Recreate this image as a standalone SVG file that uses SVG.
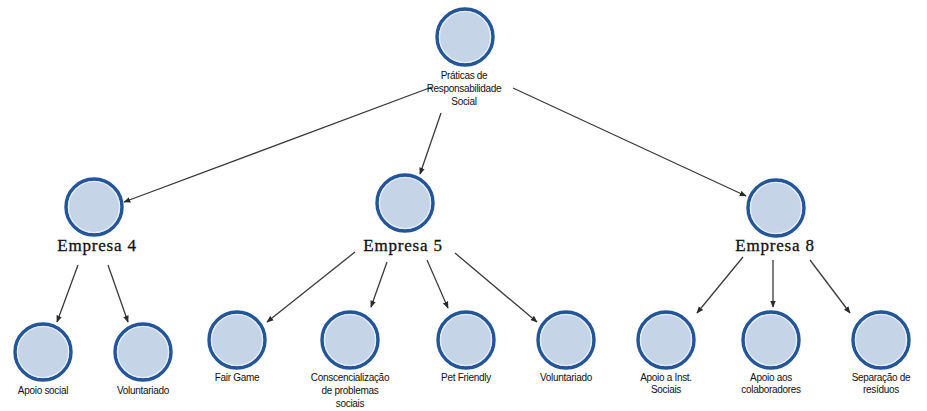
<svg xmlns="http://www.w3.org/2000/svg" width="927" height="411" viewBox="0 0 927 411">
<style>
.c{fill:#c6d4e8;stroke:#23559a;stroke-width:3.4}
.ci{fill:none;stroke:#e6eef8;stroke-width:1.2}
.s{font-family:"Liberation Sans",Arial,sans-serif;font-size:10px;fill:#111;text-anchor:middle;letter-spacing:-0.3px}
.e{font-family:"Liberation Serif","Times New Roman",serif;font-size:17px;fill:#111;text-anchor:middle;letter-spacing:0.8px;stroke:#111;stroke-width:0.3}
.a{stroke:#3a3a3a;stroke-width:1.3;fill:none;marker-end:url(#ah)}
</style>
<defs>
<marker id="ah" viewBox="0 0 10 10" refX="9" refY="5" markerWidth="7" markerHeight="7" orient="auto" markerUnits="userSpaceOnUse">
<path d="M0,1 L10,5 L0,9 z" fill="#2a2a2a"/>
</marker>
</defs>
<rect width="927" height="411" fill="#fff"/>
<g id="connectors">
<line class="a" x1="432" y1="87" x2="124" y2="202"/>
<line class="a" x1="441" y1="113" x2="420" y2="174"/>
<line class="a" x1="513" y1="88" x2="746" y2="196"/>
<line class="a" x1="78" y1="265" x2="57" y2="322"/>
<line class="a" x1="108" y1="265" x2="128" y2="322"/>
<line class="a" x1="355" y1="252" x2="267" y2="322"/>
<line class="a" x1="387" y1="262" x2="371" y2="307"/>
<line class="a" x1="427" y1="260" x2="448" y2="308"/>
<line class="a" x1="455" y1="253" x2="537" y2="322"/>
<line class="a" x1="743" y1="257" x2="697" y2="313"/>
<line class="a" x1="773" y1="260" x2="773" y2="307"/>
<line class="a" x1="810" y1="260" x2="850" y2="313"/>
</g>
<g id="n-root">
<circle class="c" cx="465" cy="37" r="28"/><circle class="ci" cx="465" cy="37" r="25.5"/>
<text class="s" x="464" y="79">Práticas de</text>
<text class="s" x="464" y="92">Responsabilidade</text>
<text class="s" x="464" y="105">Social</text>
</g>
<g id="n-e4">
<circle class="c" cx="94" cy="207" r="28"/><circle class="ci" cx="94" cy="207" r="25.5"/>
<text class="e" x="97" y="251">Empresa 4</text>
</g>
<g id="n-e5">
<circle class="c" cx="405" cy="203" r="28"/><circle class="ci" cx="405" cy="203" r="25.5"/>
<text class="e" x="403" y="251">Empresa 5</text>
</g>
<g id="n-e8">
<circle class="c" cx="776" cy="208" r="28"/><circle class="ci" cx="776" cy="208" r="25.5"/>
<text class="e" x="775" y="251">Empresa 8</text>
</g>
<g id="n-apoio-social">
<circle class="c" cx="43" cy="352" r="28"/><circle class="ci" cx="43" cy="352" r="25.5"/>
<text class="s" x="43" y="394">Apoio social</text>
</g>
<g id="n-vol1">
<circle class="c" cx="143" cy="352" r="28"/><circle class="ci" cx="143" cy="352" r="25.5"/>
<text class="s" x="143" y="394">Voluntariado</text>
</g>
<g id="n-fair">
<circle class="c" cx="237" cy="340" r="28"/><circle class="ci" cx="237" cy="340" r="25.5"/>
<text class="s" x="237" y="381">Fair Game</text>
</g>
<g id="n-consc">
<circle class="c" cx="350" cy="340" r="28"/><circle class="ci" cx="350" cy="340" r="25.5"/>
<text class="s" x="350" y="381">Conscencialização</text>
<text class="s" x="350" y="394">de problemas</text>
<text class="s" x="350" y="407">sociais</text>
</g>
<g id="n-pet">
<circle class="c" cx="466" cy="340" r="28"/><circle class="ci" cx="466" cy="340" r="25.5"/>
<text class="s" x="466" y="381">Pet Friendly</text>
</g>
<g id="n-vol2">
<circle class="c" cx="566" cy="340" r="28"/><circle class="ci" cx="566" cy="340" r="25.5"/>
<text class="s" x="566" y="381">Voluntariado</text>
</g>
<g id="n-inst">
<circle class="c" cx="666" cy="340" r="28"/><circle class="ci" cx="666" cy="340" r="25.5"/>
<text class="s" x="666" y="381">Apoio a Inst.</text>
<text class="s" x="666" y="393">Sociais</text>
</g>
<g id="n-colab">
<circle class="c" cx="771" cy="340" r="28"/><circle class="ci" cx="771" cy="340" r="25.5"/>
<text class="s" x="771" y="381">Apoio aos</text>
<text class="s" x="771" y="393">colaboradores</text>
</g>
<g id="n-sep">
<circle class="c" cx="881" cy="340" r="28"/><circle class="ci" cx="881" cy="340" r="25.5"/>
<text class="s" x="881" y="381">Separação de</text>
<text class="s" x="881" y="393">resíduos</text>
</g>
</svg>
